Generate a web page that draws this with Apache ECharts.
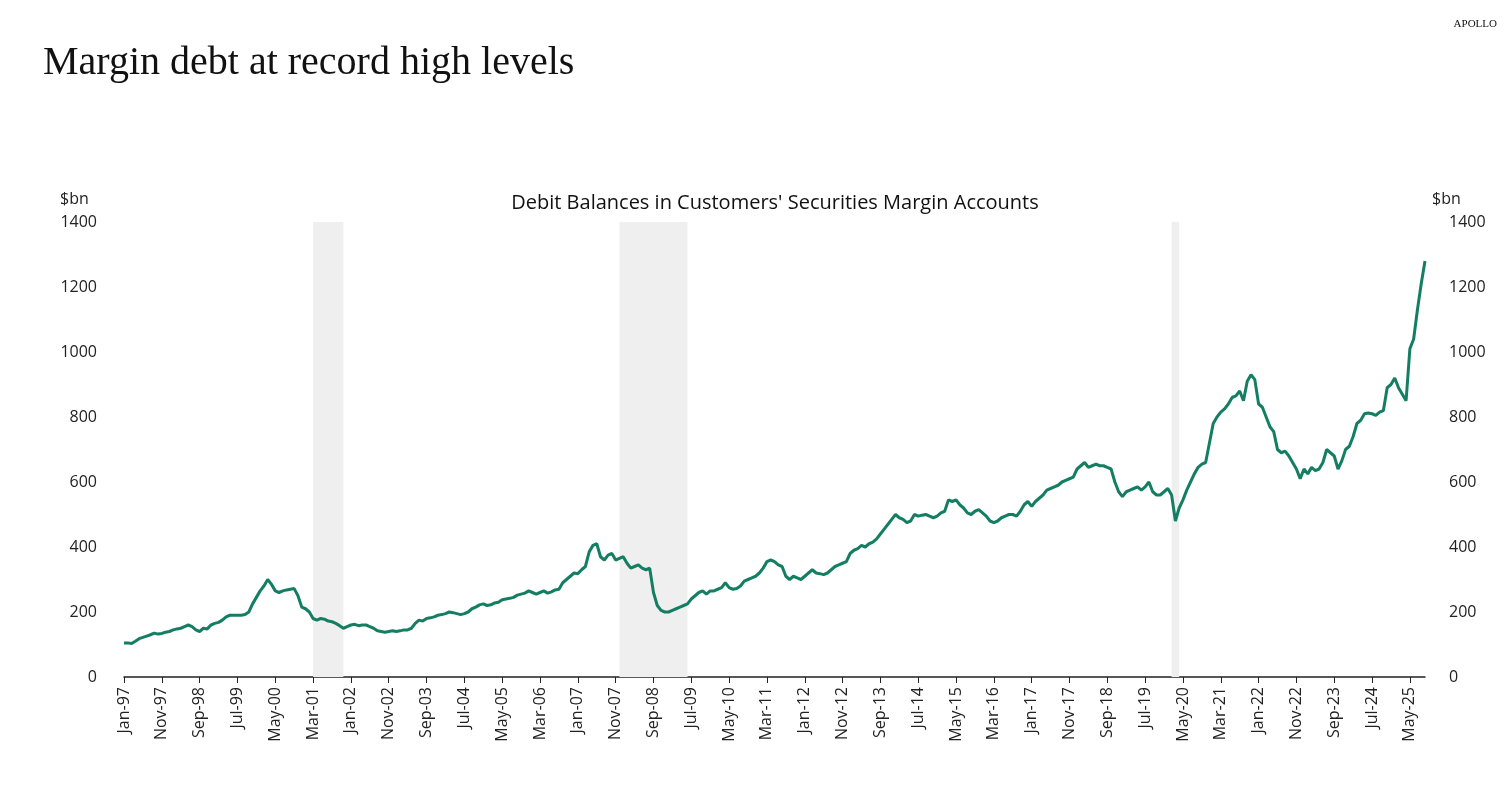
<!DOCTYPE html>
<html>
<head>
<meta charset="utf-8">
<script src="https://cdn.jsdelivr.net/npm/echarts@6/dist/echarts.min.js"></script>
<style>
  html, body { margin: 0; padding: 0; background: #fff; }
  #chart { width: 1504px; height: 796px; }
</style>
</head>
<body>
<div id="chart"></div>
<script>
// Monthly months Jan-97 .. Sep-25
const monthNames = ['Jan', 'Feb', 'Mar', 'Apr', 'May', 'Jun', 'Jul', 'Aug', 'Sep', 'Oct', 'Nov', 'Dec']
const categories = []
for (let y = 1997; y <= 2025; y++) {
    for (let m = 0; m < 12; m++) {
        if (y === 2025 && m > 8) break
        categories.push(`${monthNames[m]}-${String(y).slice(2)}`)
    }
}

// Debit balances, $bn
const debit = [
    105, 105, 103, 110, 118, 122, 126, 130, 135, 132, 134, 138,
    140, 145, 148, 150, 155, 160, 155, 145, 140, 150, 148, 160,
    165, 168, 175, 185, 190, 190, 190, 190, 192, 200, 225, 245,
    265, 280, 300, 285, 265, 260, 265, 268, 270, 272, 250, 215,
    210, 200, 180, 175, 180, 178, 172, 170, 165, 158, 150, 155,
    160, 162, 158, 160, 160, 155, 150, 142, 140, 138, 140, 142,
    140, 142, 145, 145, 150, 165, 175, 172, 180, 182, 185, 190,
    192, 195, 200, 198, 195, 192, 195, 200, 210, 215, 222, 225,
    220, 222, 228, 230, 238, 240, 242, 245, 252, 255, 258, 265,
    260, 255, 260, 265, 258, 262, 268, 270, 290, 300, 310, 320,
    318, 330, 340, 385, 405, 410, 370, 360, 375, 380, 360, 365,
    370, 350, 335, 340, 345, 335, 330, 335, 260, 220, 205, 200,
    200, 205, 210, 215, 220, 225, 240, 250, 260, 265, 255, 265,
    265, 270, 275, 290, 275, 270, 272, 280, 295, 300, 305, 310,
    320, 335, 355, 360, 355, 345, 340, 310, 300, 310, 305, 300,
    310, 320, 330, 320, 318, 315, 320, 330, 340, 345, 350, 355,
    380, 390, 395, 405, 400, 410, 415, 425, 440, 455, 470, 485,
    500, 490, 485, 475, 480, 500, 495, 498, 500, 495, 490, 495,
    505, 510, 545, 540, 545, 530, 520, 505, 500, 510, 515, 505,
    495, 480, 475, 480, 490, 495, 500, 500, 495, 510, 530, 540,
    525, 540, 550, 560, 575, 580, 585, 590, 600, 605, 610, 615,
    640, 650, 660, 645, 650, 655, 650, 650, 645, 640, 600, 570,
    555, 570, 575, 580, 585, 575, 585, 600, 570, 560, 560, 570,
    580, 560, 480, 520, 545, 575, 600, 625, 645, 655, 660, 720,
    780, 800, 815, 825, 840, 860, 865, 880, 850, 910, 930, 915,
    840, 830, 800, 770, 755, 700, 690, 695, 680, 660, 640, 610,
    640, 625, 645, 635, 640, 660, 700, 690, 680, 640, 665, 700,
    710, 740, 780, 790, 810, 812, 810, 805, 815, 820, 890, 900,
    920, 890, 870, 850, 1010, 1040, 1130, 1210, 1280
]

// Recessions (NBER)
const recessions = [['Mar-01', 'Nov-01'], ['Dec-07', 'Jun-09'], ['Feb-20', 'Apr-20']]

const yTicks = { min: 0, max: 1400, interval: 200 }

let myChart = echarts.init(document.getElementById('chart'))
const labelFont = { color: '#222', fontSize: 16, fontFamily: 'Open Sans' }

let option = {
    animation: false,
    title: [
        { text: 'Margin debt at record high levels', left: 38, top: 38,
          textStyle: { fontFamily: 'Liberation Serif', fontWeight: 'normal', fontSize: 40, color: '#111' } },
        { text: 'APOLLO', right: 2, top: 14,
          textStyle: { fontFamily: 'Liberation Serif', fontWeight: 'normal', fontSize: 11, color: '#111', letterSpacing: 2 } },
        { text: "Debit Balances in Customers' Securities Margin Accounts", left: 770, top: 188, textAlign: 'center',
          textStyle: { fontFamily: 'Open Sans', fontWeight: 'normal', fontSize: 20, color: '#111' } },
        { text: '$bn', left: 55, top: 186, textStyle: { ...labelFont, fontWeight: 'normal' } },
        { text: '$bn', left: 1427, top: 186, textStyle: { ...labelFont, fontWeight: 'normal' } },
    ],
    grid: { left: 124, right: 79, top: 222, bottom: 119 },
    xAxis: {
        type: 'category',
        data: categories,
        boundaryGap: false,
        axisLine: { lineStyle: { color: '#222', width: 1.5 } },
        axisTick: { interval: 9, length: 6, lineStyle: { color: '#222' } },
        axisLabel: { interval: 9, rotate: 90, margin: 10, ...labelFont },
        splitLine: { show: false },
    },
    yAxis: [
        { type: 'value', ...yTicks, position: 'left',
          axisLabel: { ...labelFont, margin: 27, formatter: (v) => String(v) }, splitLine: { show: false },
          axisLine: { show: false }, axisTick: { show: false } },
        { type: 'value', ...yTicks, position: 'right',
          axisLabel: { ...labelFont, margin: 24, formatter: (v) => String(v) }, splitLine: { show: false },
          axisLine: { show: false }, axisTick: { show: false } },
    ],
    series: [
        {
            type: 'line',
            data: debit,
            showSymbol: false,
            lineStyle: { color: '#137e62', width: 3 },
            itemStyle: { color: '#137e62' },
            markArea: {
                silent: true,
                itemStyle: { color: '#efefef' },
                data: recessions.map((r) => [{ xAxis: r[0] }, { xAxis: r[1] }]),
            },
        },
    ],
}

myChart.setOption(option)
</script>
</body>
</html>
